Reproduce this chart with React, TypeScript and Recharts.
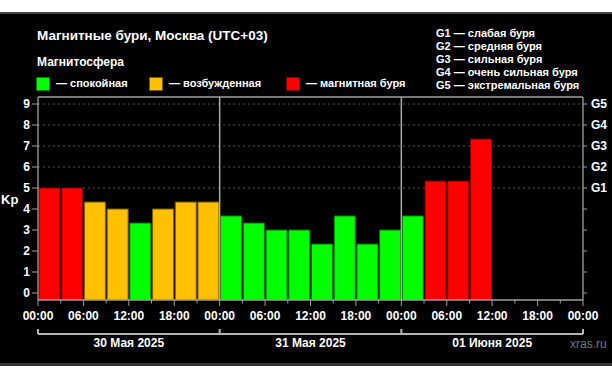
import {
  BarChart,
  Bar,
  XAxis,
  YAxis,
  CartesianGrid,
  ReferenceLine,
  Cell,
} from 'recharts'

// 3-hour Kp slots, centre of each slot in hours from 30 May 00:00
const slotCenters = [
  1.5, 4.5, 7.5, 10.5, 13.5, 16.5, 19.5, 22.5,
  25.5, 28.5, 31.5, 34.5, 37.5, 40.5, 43.5, 46.5,
  49.5, 52.5, 55.5, 58.5,
]
const kpValues = [
  5, 5, 4.33, 4, 3.33, 4, 4.33, 4.33,
  3.67, 3.33, 3, 3, 2.33, 3.67, 2.33, 3,
  3.67, 5.33, 5.33, 7.33,
]

const hourTicks = [0, 3, 6, 9, 12, 15, 18, 21, 24, 27, 30, 33, 36, 39, 42, 45, 48, 51, 54, 57, 60, 63, 66, 69, 72]
const hourLabels = [
  '00:00', '', '06:00', '', '12:00', '', '18:00', '',
  '00:00', '', '06:00', '', '12:00', '', '18:00', '',
  '00:00', '', '06:00', '', '12:00', '', '18:00', '',
  '00:00',
]
const dayTicks = [0, 12, 24, 36, 48, 60, 72]
const dayLabels = ['30 Мая 2025', '31 Мая 2025', '01 Июня 2025']
const dayBorders = [24, 48]

const kpTicks = [0, 1, 2, 3, 4, 5, 6, 7, 8, 9]
const gridKp = [5, 6, 7, 8, 9]
const gLevels = ['G1', 'G2', 'G3', 'G4', 'G5']
const gNames = ['слабая буря', 'средняя буря', 'сильная буря', 'очень сильная буря', 'экстремальная буря']
const levelNames = ['спокойная', 'возбужденная', 'магнитная буря']

const Y_MIN = -1 / 3
const Y_MAX = 9 + 1 / 3
const AXIS = '#a0a0a0'
const BRACKET = '#b4b4b4'
const FONT = '"Liberation Sans", Arial, sans-serif'

const levelFill = ['#00ff00', '#ffc000', '#ff0000']
const levelStroke = ['#007a00', '#7a5c00', '#7a0000']
const legendLeft = [36, 149, 286]

function levelOf(kp: number) {
  if (kp >= 5) return 2
  if (kp >= 4) return 1
  return 0
}

const data = slotCenters.map((h, i) => ({ hour: h, range: [Y_MIN, kpValues[i]] }))

function HourTick({ x, y, payload }: any) {
  const label = hourLabels[hourTicks.indexOf(payload.value)]
  return (
    <g>
      <line x1={x} x2={x} y1={y} y2={y + (label ? 6 : 3.5)} stroke={AXIS} />
      {label ? (
        <text x={x} y={y + 20} textAnchor="middle" fill="#fff" fontSize={12} fontWeight="bold" fontFamily={FONT}>
          {label}
        </text>
      ) : null}
    </g>
  )
}

function DayTick({ x, y, payload }: any) {
  const v = payload.value
  if (v % 24 === 0) {
    return (
      <g>
        <line x1={x} x2={x} y1={y - 5} y2={y} stroke={BRACKET} strokeWidth={2} />
      </g>
    )
  }
  return (
    <text x={x} y={y + 13} textAnchor="middle" fill="#fff" fontSize={12} fontWeight="bold" fontFamily={FONT}>
      {dayLabels[Math.floor(v / 24)]}
    </text>
  )
}

const txt = (left: number, top: number, size: number, extra: any = {}) => ({
  position: 'absolute' as const,
  left,
  top,
  fontSize: size,
  lineHeight: '14px',
  fontWeight: 'bold',
  color: '#fff',
  whiteSpace: 'nowrap' as const,
  ...extra,
})

export default function App() {
  return (
    <div style={{ position: 'absolute', left: 0, top: 0, width: 612, height: 378, background: '#fff', fontFamily: FONT }}>
      <div
        style={{
          position: 'absolute',
          left: 0,
          top: 12,
          width: 612,
          height: 354,
          boxSizing: 'border-box',
          background: '#000',
          borderTop: '2px solid #444',
          borderBottom: '3px solid #333',
        }}
      />
      <div style={{ position: 'absolute', left: 0, top: 0 }}>
        <BarChart width={612} height={378} data={data} margin={{ top: 97, right: 0, bottom: 16, left: 0 }}>
          <CartesianGrid vertical={false} horizontalValues={gridKp} stroke="#555" strokeDasharray="2 3" />
          <XAxis
            dataKey="hour"
            type="number"
            domain={[0, 72]}
            ticks={hourTicks}
            interval={0}
            allowDataOverflow
            height={34}
            tickSize={0}
            tickMargin={0}
            tickLine={false}
            stroke={AXIS}
            axisLine={{ stroke: AXIS, strokeWidth: 1.3 }}
            tick={<HourTick />}
          />
          <XAxis
            xAxisId="days"
            dataKey="hour"
            type="number"
            domain={[0, 72]}
            ticks={dayTicks}
            interval={0}
            allowDataOverflow
            height={28}
            tickSize={0}
            tickMargin={0}
            tickLine={false}
            stroke={BRACKET}
            axisLine={{ stroke: BRACKET, strokeWidth: 2 }}
            tick={<DayTick />}
          />
          <YAxis
            domain={[Y_MIN, Y_MAX]}
            ticks={kpTicks}
            interval={0}
            allowDataOverflow
            width={38}
            tickSize={6}
            tickMargin={2}
            stroke={AXIS}
            axisLine={{ stroke: AXIS, strokeWidth: 1.3 }}
            tick={{ fill: '#fff', fontSize: 12, fontWeight: 'bold', fontFamily: FONT }}
          />
          <YAxis
            yAxisId="right"
            orientation="right"
            domain={[Y_MIN, Y_MAX]}
            ticks={kpTicks}
            interval={0}
            allowDataOverflow
            width={29}
            tickSize={4}
            tickMargin={4}
            stroke={AXIS}
            axisLine={{ stroke: AXIS, strokeWidth: 1.3 }}
            tickFormatter={(v: number) => (v >= 5 ? gLevels[v - 5] : '')}
            tick={{ fill: '#fff', fontSize: 12, fontWeight: 'bold', fontFamily: FONT, textAnchor: 'start' }}
          />
          <ReferenceLine y={Y_MAX} stroke={AXIS} strokeWidth={1.3} />
          {dayBorders.map((d) => (
            <ReferenceLine key={d} x={d} stroke="#aaa" strokeWidth={1.5} />
          ))}
          <Bar dataKey="range" barSize={21} isAnimationActive={false}>
            {kpValues.map((kp, i) => (
              <Cell key={i} fill={levelFill[levelOf(kp)]} stroke={levelStroke[levelOf(kp)]} strokeWidth={1} />
            ))}
          </Bar>
        </BarChart>
      </div>

      <div style={txt(37, 29, 13.5)}>Магнитные бури, Москва (UTC+03)</div>
      <div style={txt(37, 55, 12)}>Магнитосфера</div>
      {levelNames.map((name, i) => (
        <div key={name}>
          <div
            style={{
              position: 'absolute',
              left: legendLeft[i],
              top: 77,
              width: 14,
              height: 14,
              boxSizing: 'border-box',
              background: levelFill[i],
              border: `1px solid ${levelStroke[i]}`,
            }}
          />
          <div style={txt(legendLeft[i] + 20, 76, 11)}>— {name}</div>
        </div>
      ))}
      {gLevels.map((g, i) => (
        <div key={g} style={txt(436, 26 + i * 13, 11)}>
          {g} — {gNames[i]}
        </div>
      ))}
      <div style={txt(1, 193, 13)}>Kp</div>
      <div style={txt(570, 337, 12, { fontWeight: 'normal', color: '#777' })}>xras.ru</div>
    </div>
  )
}
